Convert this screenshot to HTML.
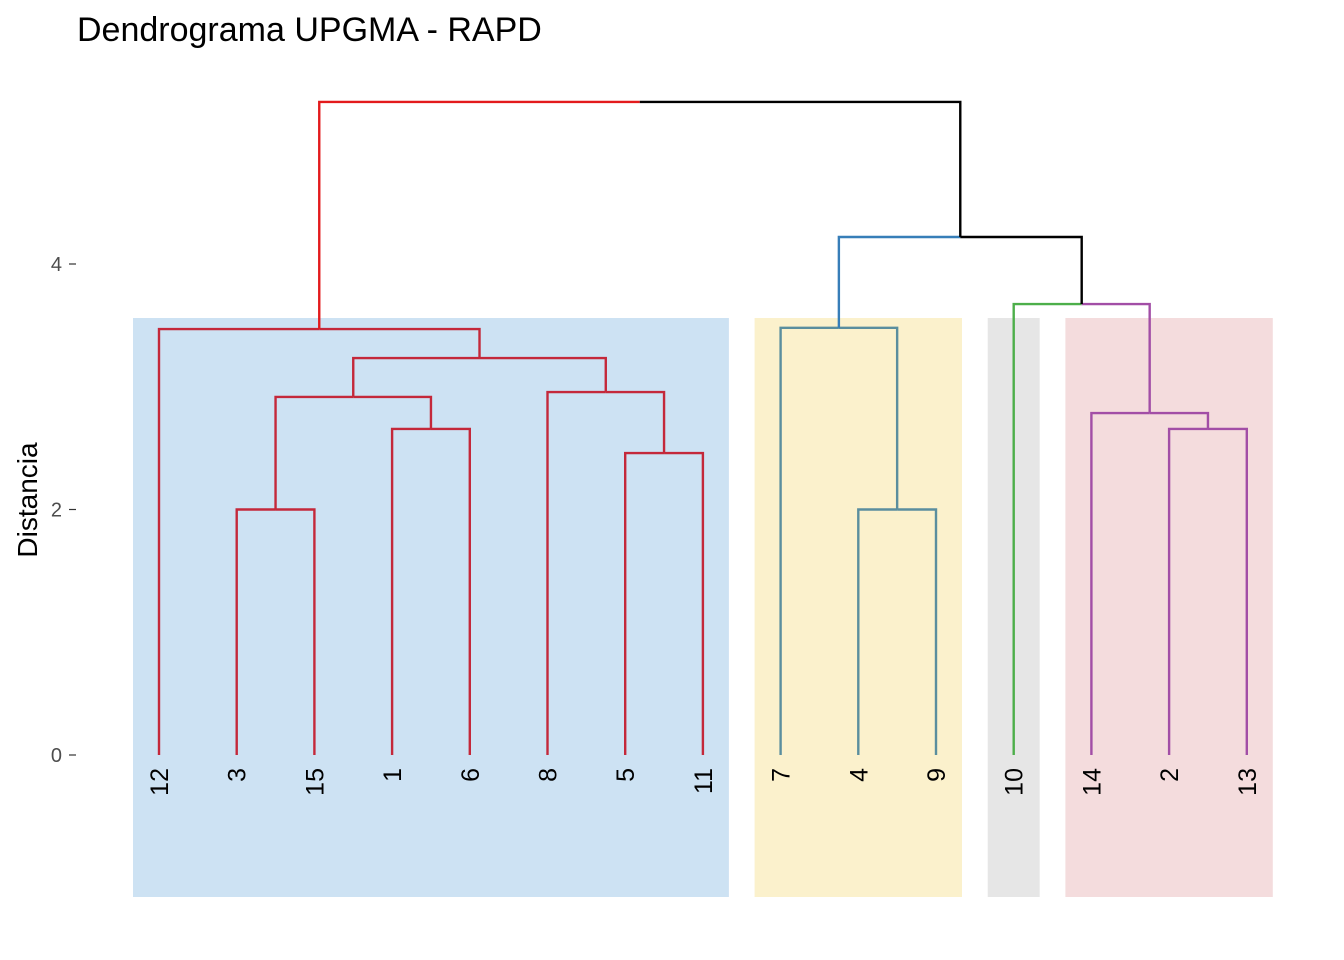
<!DOCTYPE html>
<html><head><meta charset="utf-8"><style>
body{margin:0;background:#fff;}
svg{display:block;font-family:"Liberation Sans",Arial,sans-serif;}
</style></head><body>
<svg id="c" width="1344" height="960">
<text x="77" y="41" font-size="34" fill="#000">Dendrograma UPGMA - RAPD</text>
<text transform="translate(37,500) rotate(-90)" text-anchor="middle" font-size="28" fill="#000">Distancia</text>
</svg>
<script>
// data
const leafLabels=["12","3","15","1","6","8","5","11","7","4","9","10","14","2","13"];
const yTicks=[0,2,4];
// merges: child A, child B, height (leaves "L#", internal "N#")
const A=["L1","L3","N0","L6","L5","N2","L0","L9","L8","L13","L12","L11","N8","N6"];
const B=["L2","L4","N1","L7","N3","N4","N5","L10","N7","L14","N9","N10","N11","N12"];
const H=[2.0,2.656,2.917,2.46,2.957,3.234,3.47,2.0,3.48,2.656,2.786,3.674,4.22,5.32];
const C=["#c4283a","#c4283a","#c4283a","#c4283a","#c4283a","#c4283a","#c4283a","#5a8e9e","#5a8e9e","#a24ea6","#a24ea6",null,null,null];
const rects=[[0,7,"#cde2f3"],[8,10,"#fbf1cc"],[11,11,"#e6e6e6"],[12,14,"#f4dcdd"]];
const svg=document.getElementById('c');const NS="http://www.w3.org/2000/svg";
const xL=i=>159+i*77.7, yV=v=>755-122.75*v;
function el(t,a,p){const e=document.createElementNS(NS,t);for(const k in a)e.setAttribute(k,a[k]);(p||svg).appendChild(e);return e;}
const g0=el('g',{});
rects.forEach((r,i)=>{const e=el('rect',{x:xL(r[0])-26,y:318,width:xL(r[1])-xL(r[0])+52,height:579,fill:r[2]},g0);

});
yTicks.forEach(t=>{const y=yV(t);
const l=el('line',{x1:69,x2:76,y1:y,y2:y,stroke:"#333","stroke-width":1.2});


const tx=el('text',{x:62,y:y+7,"text-anchor":"end","font-size":20,fill:"#4d4d4d"});tx.textContent=t;

});
const pos={};leafLabels.forEach((l,i)=>{pos["L"+i]={x:xL(i),h:0};});
const special={ "N11":["#4daf4a","#a24ea6"], "N12":["#377eb8","#000"], "N13":["#e31a1c","#000"] };
H.forEach((h,i)=>{const a=pos[A[i]],b=pos[B[i]],y=yV(h);const x=(a.x+b.x)/2;
let ca=C[i],cb=C[i];if(special["N"+i]){ca=special["N"+i][0];cb=special["N"+i][1];}
const g=el('g',{fill:"none","stroke-width":2.4});


el('path',{d:`M${a.x},${yV(a.h)}V${y}H${x}`,stroke:ca},g);
el('path',{d:`M${b.x},${yV(b.h)}V${y}H${x}`,stroke:cb},g);
pos["N"+i]={x:x,h:h};});
leafLabels.forEach((l,i)=>{const t=el('text',{transform:`translate(${xL(i)+9},768) rotate(-90)`,"text-anchor":"end","font-size":25,fill:"#000"});
t.textContent=l;

});
</script>
</body></html>
